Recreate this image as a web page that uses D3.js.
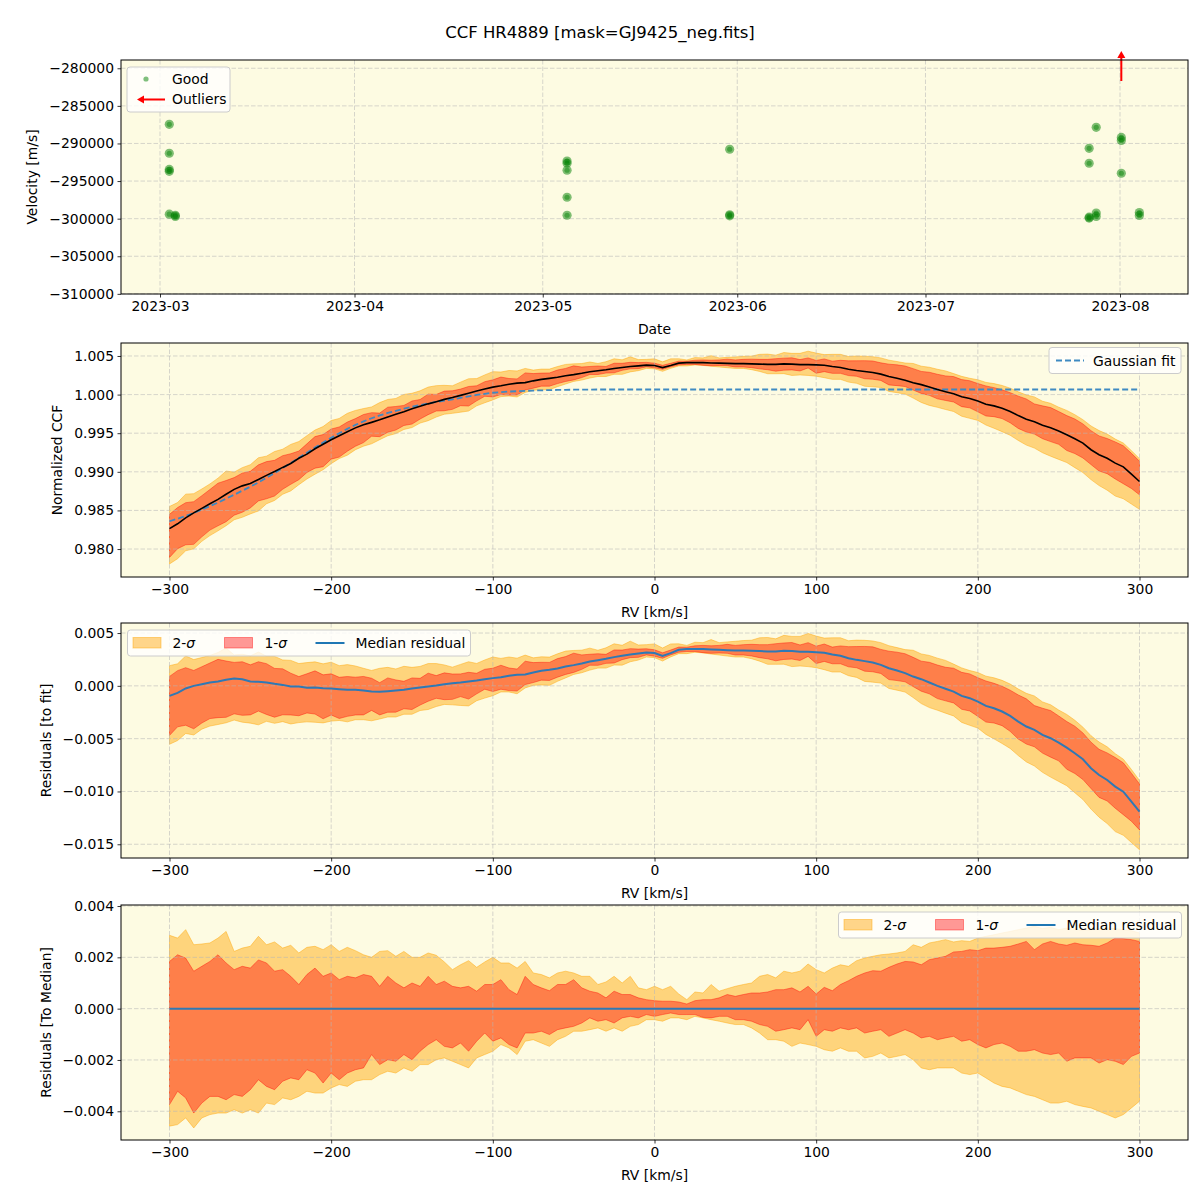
<!DOCTYPE html>
<html><head><meta charset="utf-8">
<script src="https://cdn.jsdelivr.net/npm/d3@7"></script>
<style>
body{margin:0;background:#fff;}
svg text{font-family:"DejaVu Sans",sans-serif;fill:#000;}
</style></head>
<body><svg id="chart" width="1200" height="1200"></svg>
<script>
// ---------------- DATA ----------------
const chartTitle = "CCF HR4889 [mask=GJ9425_neg.fits]";

// Panel 1: RV time series
const goodDates = ["2023-03-02T11:30","2023-03-02T11:30","2023-03-02T11:30","2023-03-02T11:30","2023-03-02T11:30",
  "2023-03-03T10:30","2023-03-03T10:30",
  "2023-05-04T21:00","2023-05-04T21:00","2023-05-04T21:00","2023-05-04T21:00","2023-05-04T21:00",
  "2023-05-30T19:00","2023-05-30T19:00","2023-05-30T19:00",
  "2023-07-27T02:00","2023-07-27T02:00","2023-07-27T02:00","2023-07-27T02:00",
  "2023-07-28T05:00","2023-07-28T05:00","2023-07-28T05:00",
  "2023-08-01T05:00","2023-08-01T05:00","2023-08-01T05:00",
  "2023-08-04T02:00","2023-08-04T02:00"];
const goodVelocities = [-287450,-291300,-293450,-293700,-299400,
  -299550,-299700,
  -292330,-292630,-293560,-297150,-299550,
  -290770,-299480,-299620,
  -290640,-292630,-299800,-299920,
  -287850,-299250,-299700,
  -289200,-289600,-293960,
  -299180,-299580];
const outlierDates = ["2023-08-01T05:00"];
const monthTicks = ["2023-03-01","2023-04-01","2023-05-01","2023-06-01","2023-07-01","2023-08-01"];
const velocityTicks = [-310000,-305000,-300000,-295000,-290000,-285000,-280000];

// RV grid (km/s)
const rvGrid = d3.range(-300, 301, 5);
const rvTicks = [-300,-200,-100,0,100,200,300];

// Gaussian fit to the CCF
const fitCCF = [0.98360,0.98393,0.98428,0.98468,0.98510,0.98555,0.98602,0.98652,0.98703,0.98755,0.98808,0.98862,0.98922,0.98984,0.99048,0.99114,0.99181,0.99248,0.99314,0.99378,0.99440,
0.99500,0.99556,0.99607,0.99653,0.99694,0.99730,0.99762,0.99790,0.99817,0.99842,0.99865,0.99886,0.99905,0.99922,0.99937,0.99958,0.99977,0.99995,1.00010,1.00024,
1.00032,1.00039,1.00044,1.00048,1.00052,1.00055,1.00058,1.00060,1.00062,1.00063,1.00064,1.00065,1.00066,1.00066,1.00066,1.00066,1.00066,1.00066,1.00066,1.00066,
1.00066,1.00066,1.00066,1.00066,1.00066,1.00066,1.00066,1.00066,1.00066,1.00066,1.00066,1.00066,1.00066,1.00066,1.00066,1.00066,1.00066,1.00066,1.00066,1.00066,
1.00066,1.00066,1.00066,1.00066,1.00066,1.00066,1.00066,1.00066,1.00066,1.00066,1.00066,1.00066,1.00066,1.00066,1.00066,1.00066,1.00066,1.00066,1.00066,1.00066,
1.00066,1.00066,1.00066,1.00066,1.00066,1.00066,1.00066,1.00066,1.00066,1.00066,1.00066,1.00066,1.00066,1.00066,1.00066,1.00066,1.00066,1.00066,1.00066,1.00066];

// Median residual (CCF median minus fit)
const medianResidual = [-0.00095,-0.00066,-0.00025,0.00000,0.00016,0.00032,0.00041,0.00057,0.00070,0.00063,0.00041,0.00038,0.00032,0.00019,0.00009,-0.00006,-0.00006,-0.00019,-0.00016,-0.00022,-0.00025,
-0.00032,-0.00038,-0.00038,-0.00044,-0.00054,-0.00057,-0.00051,-0.00044,-0.00038,-0.00025,-0.00016,-0.00006,0.00003,0.00016,0.00025,0.00032,0.00041,0.00051,0.00063,0.00073,
0.00082,0.00095,0.00104,0.00107,0.00126,0.00142,0.00152,0.00164,0.00183,0.00196,0.00212,0.00231,0.00243,0.00256,0.00272,0.00284,0.00297,0.00306,0.00316,0.00310,
0.00284,0.00310,0.00341,0.00348,0.00348,0.00348,0.00344,0.00341,0.00338,0.00335,0.00335,0.00332,0.00329,0.00325,0.00325,0.00332,0.00329,0.00322,0.00322,0.00319,
0.00313,0.00297,0.00284,0.00262,0.00246,0.00234,0.00221,0.00199,0.00167,0.00145,0.00120,0.00088,0.00063,0.00032,0.00000,-0.00028,-0.00054,-0.00095,-0.00117,-0.00149,
-0.00190,-0.00212,-0.00243,-0.00284,-0.00338,-0.00385,-0.00417,-0.00464,-0.00496,-0.00537,-0.00585,-0.00638,-0.00695,-0.00780,-0.00844,-0.00891,-0.00954,-0.01002,-0.01096,-0.01191];

// Percentile bands relative to the median
const sigma2Upper = [0.00286,0.00275,0.00308,0.00249,0.00252,0.00256,0.00275,0.00301,0.00223,0.00236,0.00243,0.00282,0.00249,0.00260,0.00236,0.00247,0.00217,0.00239,0.00243,0.00230,0.00249,
0.00223,0.00239,0.00226,0.00210,0.00200,0.00223,0.00226,0.00204,0.00223,0.00200,0.00200,0.00217,0.00208,0.00182,0.00152,0.00171,0.00187,0.00161,0.00182,0.00200,
0.00178,0.00178,0.00158,0.00184,0.00139,0.00133,0.00120,0.00139,0.00146,0.00139,0.00126,0.00126,0.00094,0.00104,0.00126,0.00100,0.00126,0.00081,0.00074,0.00087,
0.00074,0.00087,0.00057,0.00035,0.00065,0.00061,0.00094,0.00068,0.00078,0.00087,0.00094,0.00100,0.00126,0.00133,0.00120,0.00146,0.00139,0.00146,0.00174,0.00152,
0.00139,0.00158,0.00171,0.00165,0.00187,0.00197,0.00204,0.00210,0.00213,0.00217,0.00223,0.00249,0.00239,0.00256,0.00262,0.00269,0.00260,0.00265,0.00262,0.00275,
0.00282,0.00288,0.00295,0.00301,0.00308,0.00314,0.00321,0.00312,0.00317,0.00308,0.00314,0.00312,0.00304,0.00308,0.00312,0.00314,0.00312,0.00308,0.00304,0.00295];
const sigma1Upper = [0.00184,0.00210,0.00197,0.00146,0.00165,0.00184,0.00210,0.00178,0.00152,0.00165,0.00158,0.00190,0.00178,0.00146,0.00152,0.00126,0.00094,0.00133,0.00158,0.00126,0.00139,
0.00113,0.00126,0.00120,0.00133,0.00126,0.00087,0.00126,0.00100,0.00081,0.00100,0.00087,0.00126,0.00094,0.00107,0.00087,0.00081,0.00087,0.00068,0.00094,0.00094,
0.00113,0.00074,0.00055,0.00126,0.00094,0.00081,0.00070,0.00094,0.00094,0.00113,0.00081,0.00068,0.00061,0.00042,0.00068,0.00055,0.00055,0.00042,0.00035,0.00031,
0.00029,0.00029,0.00026,0.00018,0.00031,0.00035,0.00035,0.00042,0.00055,0.00048,0.00055,0.00061,0.00061,0.00065,0.00074,0.00074,0.00081,0.00065,0.00087,0.00057,
0.00083,0.00070,0.00094,0.00109,0.00126,0.00139,0.00148,0.00146,0.00161,0.00174,0.00184,0.00182,0.00171,0.00191,0.00197,0.00204,0.00221,0.00223,0.00230,0.00226,
0.00236,0.00236,0.00239,0.00243,0.00252,0.00262,0.00230,0.00252,0.00262,0.00252,0.00247,0.00256,0.00249,0.00247,0.00243,0.00256,0.00275,0.00273,0.00269,0.00262];
const sigma1Lower = [-0.00374,-0.00322,-0.00348,-0.00407,-0.00368,-0.00342,-0.00342,-0.00355,-0.00335,-0.00342,-0.00316,-0.00277,-0.00303,-0.00316,-0.00283,-0.00270,-0.00277,-0.00238,-0.00251,-0.00290,-0.00251,
-0.00277,-0.00251,-0.00238,-0.00231,-0.00179,-0.00218,-0.00199,-0.00205,-0.00179,-0.00199,-0.00166,-0.00140,-0.00121,-0.00147,-0.00153,-0.00134,-0.00166,-0.00127,-0.00095,-0.00127,
-0.00114,-0.00140,-0.00153,-0.00095,-0.00095,-0.00088,-0.00101,-0.00082,-0.00075,-0.00069,-0.00056,-0.00036,-0.00049,-0.00043,-0.00056,-0.00036,-0.00030,-0.00036,-0.00023,-0.00030,
-0.00023,-0.00017,-0.00023,-0.00023,-0.00023,-0.00034,-0.00036,-0.00030,-0.00030,-0.00043,-0.00043,-0.00049,-0.00062,-0.00069,-0.00088,-0.00082,-0.00075,-0.00082,-0.00043,-0.00108,
-0.00082,-0.00088,-0.00075,-0.00082,-0.00075,-0.00095,-0.00088,-0.00082,-0.00108,-0.00095,-0.00082,-0.00095,-0.00114,-0.00108,-0.00121,-0.00114,-0.00108,-0.00127,-0.00121,-0.00140,
-0.00153,-0.00140,-0.00134,-0.00147,-0.00166,-0.00166,-0.00160,-0.00173,-0.00179,-0.00173,-0.00205,-0.00192,-0.00192,-0.00192,-0.00212,-0.00199,-0.00205,-0.00218,-0.00186,-0.00173];
const sigma2Lower = [-0.00458,-0.00452,-0.00426,-0.00465,-0.00426,-0.00413,-0.00407,-0.00407,-0.00394,-0.00407,-0.00394,-0.00407,-0.00368,-0.00374,-0.00348,-0.00355,-0.00342,-0.00322,-0.00329,-0.00329,-0.00309,
-0.00296,-0.00303,-0.00283,-0.00277,-0.00277,-0.00257,-0.00244,-0.00251,-0.00231,-0.00244,-0.00218,-0.00218,-0.00199,-0.00192,-0.00205,-0.00218,-0.00231,-0.00192,-0.00179,-0.00166,
-0.00140,-0.00153,-0.00179,-0.00127,-0.00121,-0.00134,-0.00147,-0.00121,-0.00108,-0.00088,-0.00088,-0.00082,-0.00075,-0.00088,-0.00075,-0.00088,-0.00069,-0.00062,-0.00043,-0.00043,
-0.00049,-0.00036,-0.00036,-0.00043,-0.00030,-0.00036,-0.00043,-0.00049,-0.00056,-0.00062,-0.00062,-0.00075,-0.00095,-0.00121,-0.00121,-0.00127,-0.00147,-0.00134,-0.00140,-0.00147,
-0.00160,-0.00166,-0.00153,-0.00166,-0.00166,-0.00192,-0.00186,-0.00173,-0.00192,-0.00186,-0.00179,-0.00199,-0.00231,-0.00238,-0.00231,-0.00231,-0.00231,-0.00251,-0.00257,-0.00251,
-0.00270,-0.00290,-0.00303,-0.00309,-0.00322,-0.00335,-0.00342,-0.00355,-0.00368,-0.00368,-0.00361,-0.00374,-0.00381,-0.00387,-0.00400,-0.00413,-0.00426,-0.00413,-0.00387,-0.00361];

const ccfTicks = [0.980,0.985,0.990,0.995,1.000,1.005];
const resFitTicks = [-0.015,-0.010,-0.005,0.000,0.005];
const resMedTicks = [-0.004,-0.002,0.000,0.002,0.004];

// ---------------- DRAWING ----------------
const BG = "#fdfbe2";
const FS = 13.9;
const FIT_COLOR = "#3f8ac2";
const L = 121, R = 1188;
const P = [{top:60,bottom:294},{top:343,bottom:577},{top:623,bottom:858},{top:905,bottom:1140}];
const svg = d3.select("#chart");
const parse = d3.isoParse;
const parseT = s => new Date(s);

const ccfMedian = fitCCF.map((f,i) => f + medianResidual[i]);
const zeroLine = medianResidual.map(v => v - v);

const xRV = d3.scaleLinear().domain([-330,330]).range([L,R]);
const xDate = d3.scaleTime().domain([new Date(2023,1,22,18,49), new Date(2023,7,11,20,5)]).range([L,R]);
const y1 = d3.scaleLinear().domain([-310020,-278900]).range([P[0].bottom,P[0].top]);
const y2 = d3.scaleLinear().domain([0.97638,1.00668]).range([P[1].bottom,P[1].top]);
const y3 = d3.scaleLinear().domain([-0.0163,0.00595]).range([P[2].bottom,P[2].top]);
const y4 = d3.scaleLinear().domain([-0.00512,0.00404]).range([P[3].bottom,P[3].top]);

function background(p){
  svg.append("rect").attr("x",L).attr("y",p.top).attr("width",R-L).attr("height",p.bottom-p.top).attr("fill",BG);
}
function grid(p, xs, xt, ys, yt){
  const g = svg.append("g").attr("stroke","#b8b8b8").attr("stroke-opacity",0.7).attr("stroke-width",0.8).attr("stroke-dasharray","4.5,2");
  xt.forEach(t => g.append("line").attr("x1",xs(t)).attr("x2",xs(t)).attr("y1",p.top).attr("y2",p.bottom));
  yt.forEach(t => g.append("line").attr("x1",L).attr("x2",R).attr("y1",ys(t)).attr("y2",ys(t)));
}
function axes(p, xAxis, yAxis){
  const gx = svg.append("g").attr("transform",`translate(0,${p.bottom})`).call(xAxis);
  const gy = svg.append("g").attr("transform",`translate(${L},0)`).call(yAxis);
  [gx,gy].forEach(g => {
    g.select(".domain").remove();
    g.selectAll("line").attr("stroke","#000").attr("stroke-width",0.8);
    g.selectAll("text").attr("font-family","DejaVu Sans").attr("font-size",FS).attr("fill","#000");
  });
  svg.append("rect").attr("x",L).attr("y",p.top).attr("width",R-L).attr("height",p.bottom-p.top)
    .attr("fill","none").attr("stroke","#000").attr("stroke-width",1);
}
function xlabel(p, txt){
  svg.append("text").attr("x",(L+R)/2).attr("y",p.bottom+40).attr("text-anchor","middle").attr("font-size",FS).text(txt);
}
function ylabel(p, txt, cx){
  svg.append("text").attr("transform",`translate(${cx},${(p.top+p.bottom)/2}) rotate(-90)`)
    .attr("text-anchor","middle").attr("dominant-baseline","central").attr("font-size",FS).text(txt);
}
function bands(ys, center){
  const a = (lo, hi) => d3.area().x((d,i)=>xRV(rvGrid[i])).y0((d,i)=>ys(center[i]+lo[i])).y1((d,i)=>ys(center[i]+hi[i]));
  svg.append("path").datum(rvGrid).attr("d", a(sigma2Lower, sigma2Upper))
    .attr("fill","orange").attr("fill-opacity",0.45).attr("stroke","orange").attr("stroke-opacity",0.45).attr("stroke-width",1);
  svg.append("path").datum(rvGrid).attr("d", a(sigma1Lower, sigma1Upper))
    .attr("fill","red").attr("fill-opacity",0.4).attr("stroke","red").attr("stroke-opacity",0.4).attr("stroke-width",1);
}
function seriesLine(ys, vals, color, w, dash, op){
  const ln = d3.line().x((d,i)=>xRV(rvGrid[i])).y((d,i)=>ys(vals[i]));
  const pth = svg.append("path").datum(rvGrid).attr("d",ln).attr("fill","none").attr("stroke",color).attr("stroke-width",w).attr("stroke-opacity",op||1);
  if (dash) pth.attr("stroke-dasharray",dash);
}
function legendBox(x,y,w,h){
  svg.append("rect").attr("x",x).attr("y",y).attr("width",w).attr("height",h).attr("rx",3)
    .attr("fill","#fff").attr("fill-opacity",0.8).attr("stroke","#cccccc").attr("stroke-width",1);
}
function sigmaLabel(x,y,n){
  const t = svg.append("text").attr("x",x).attr("y",y).attr("font-size",FS);
  t.append("tspan").text(n+"-");
  t.append("tspan").attr("font-style","italic").text("σ");
}
function bandLegend(x,y){
  legendBox(x,y,343,26);
  const cy = y+13;
  svg.append("rect").attr("x",x+5.5).attr("y",cy-5.5).attr("width",28).attr("height",10.5)
    .attr("fill","orange").attr("fill-opacity",0.45).attr("stroke","orange").attr("stroke-opacity",0.45);
  sigmaLabel(x+45, cy+5, "2");
  svg.append("rect").attr("x",x+97).attr("y",cy-5.5).attr("width",28).attr("height",10.5)
    .attr("fill","red").attr("fill-opacity",0.4).attr("stroke","red").attr("stroke-opacity",0.4);
  sigmaLabel(x+137, cy+5, "1");
  svg.append("line").attr("x1",x+188).attr("x2",x+217).attr("y1",cy).attr("y2",cy).attr("stroke","#1f77b4").attr("stroke-width",2);
  svg.append("text").attr("x",x+228).attr("y",cy+5).attr("font-size",FS).text("Median residual");
}

// Title
svg.append("text").attr("x",600).attr("y",38).attr("text-anchor","middle").attr("font-size",16.5).text(chartTitle);

// ---- Panel 1 ----
{
  const p = P[0];
  background(p);
  const mt = monthTicks.map(parse);
  grid(p, xDate, mt, y1, velocityTicks);
  const g = svg.append("g");
  goodDates.forEach((d,i) => {
    const cx = xDate(parseT(d)), cy = y1(goodVelocities[i]);
    g.append("circle").attr("cx",cx).attr("cy",cy).attr("r",4.6).attr("fill","green").attr("fill-opacity",0.5);
    g.append("circle").attr("cx",cx).attr("cy",cy).attr("r",2.6).attr("fill","green").attr("fill-opacity",0.45);
  });
  // outlier arrows (value above the plotted range)
  outlierDates.forEach(d => {
    const ax = xDate(parseT(d)), yb = y1.range()[1];
    svg.append("line").attr("x1",ax).attr("x2",ax).attr("y1",yb+21).attr("y2",yb-4).attr("stroke","red").attr("stroke-width",2);
    svg.append("path").attr("d",`M${ax-4},${yb-2} L${ax},${yb-9} L${ax+4},${yb-2} Z`).attr("fill","red");
  });
  axes(p,
    d3.axisBottom(xDate).tickValues(mt).tickFormat(d3.timeFormat("%Y-%m")).tickSize(3.5).tickPadding(3.5),
    d3.axisLeft(y1).tickValues(velocityTicks).tickFormat(d3.format("d")).tickSize(3.5).tickPadding(3.5));
  xlabel(p,"Date");
  ylabel(p,"Velocity [m/s]",32);
  // legend
  legendBox(127,67,103,45);
  svg.append("circle").attr("cx",146).attr("cy",79).attr("r",2.6).attr("fill","green").attr("fill-opacity",0.5);
  svg.append("text").attr("x",172).attr("y",84).attr("font-size",FS).text("Good");
  svg.append("line").attr("x1",165).attr("x2",142).attr("y1",99.5).attr("y2",99.5).attr("stroke","red").attr("stroke-width",2);
  svg.append("path").attr("d","M144,95.5 L137,99.5 L144,103.5 Z").attr("fill","red");
  svg.append("text").attr("x",172).attr("y",104).attr("font-size",FS).text("Outliers");
}

// ---- Panel 2 ----
{
  const p = P[1];
  background(p);
  bands(y2, ccfMedian);
  grid(p, xRV, rvTicks, y2, ccfTicks);
  seriesLine(y2, fitCCF, FIT_COLOR, 1.8, "6,3", 1);
  seriesLine(y2, ccfMedian, "#000", 1.6);
  axes(p,
    d3.axisBottom(xRV).tickValues(rvTicks).tickFormat(d3.format("d")).tickSize(3.5).tickPadding(3.5),
    d3.axisLeft(y2).tickValues(ccfTicks).tickFormat(d3.format(".3f")).tickSize(3.5).tickPadding(3.5));
  xlabel(p,"RV [km/s]");
  ylabel(p,"Normalized CCF",57);
  legendBox(1049,347.5,132,26);
  svg.append("line").attr("x1",1056).attr("x2",1084).attr("y1",360.5).attr("y2",360.5)
    .attr("stroke",FIT_COLOR).attr("stroke-width",1.8).attr("stroke-dasharray","6,3");
  svg.append("text").attr("x",1093).attr("y",365.5).attr("font-size",FS).text("Gaussian fit");
}

// ---- Panel 3 ----
{
  const p = P[2];
  background(p);
  bands(y3, medianResidual);
  grid(p, xRV, rvTicks, y3, resFitTicks);
  seriesLine(y3, medianResidual, "#2f79b5", 2, null, 1);
  axes(p,
    d3.axisBottom(xRV).tickValues(rvTicks).tickFormat(d3.format("d")).tickSize(3.5).tickPadding(3.5),
    d3.axisLeft(y3).tickValues(resFitTicks).tickFormat(d3.format(".3f")).tickSize(3.5).tickPadding(3.5));
  xlabel(p,"RV [km/s]");
  ylabel(p,"Residuals [to fit]",46);
  bandLegend(127.5,630);
}

// ---- Panel 4 ----
{
  const p = P[3];
  background(p);
  bands(y4, zeroLine);
  grid(p, xRV, rvTicks, y4, resMedTicks);
  seriesLine(y4, zeroLine, "#2f79b5", 2, null, 1);
  axes(p,
    d3.axisBottom(xRV).tickValues(rvTicks).tickFormat(d3.format("d")).tickSize(3.5).tickPadding(3.5),
    d3.axisLeft(y4).tickValues(resMedTicks).tickFormat(d3.format(".3f")).tickSize(3.5).tickPadding(3.5));
  xlabel(p,"RV [km/s]");
  ylabel(p,"Residuals [To Median]",46);
  bandLegend(838.5,912);
}
</script>
</body></html>
